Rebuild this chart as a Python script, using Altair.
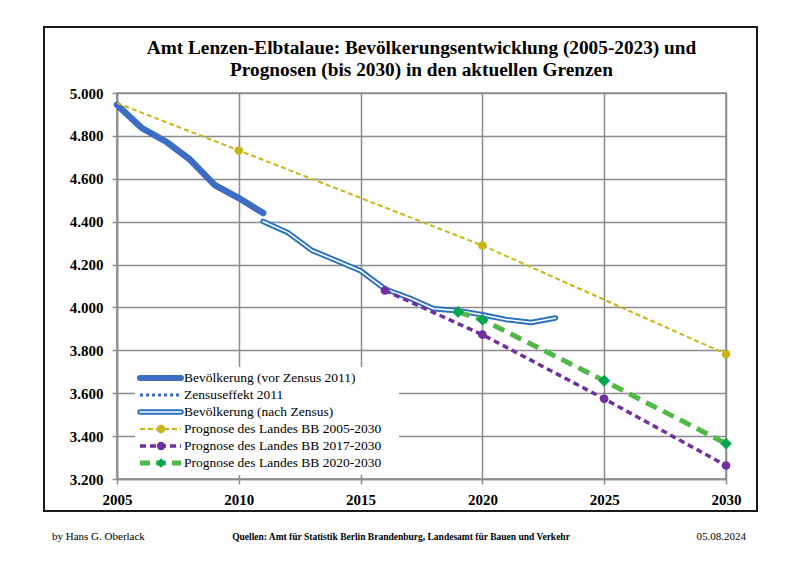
import altair as alt
import pandas as pd

# ---------------- data ----------------
years_before = [2005, 2006, 2007, 2008, 2009, 2010, 2011]
pop_before = [4945, 4838, 4774, 4689, 4572, 4510, 4440]

years_after = [2011, 2012, 2013, 2014, 2015, 2016, 2017, 2018, 2019, 2020, 2021, 2022, 2023]
pop_after = [4401, 4350, 4266, 4219, 4171, 4086, 4044, 3994, 3985, 3966, 3943, 3930, 3951]

years_p2005 = [2005, 2010, 2020, 2030]
pop_p2005 = [4953, 4732, 4289, 3783]
marker_years_p2005 = [2010, 2020, 2030]

years_p2017 = [2016, 2020, 2025, 2030]
pop_p2017 = [4079, 3873, 3574, 3263]

years_p2020 = [2019, 2020, 2025, 2030]
pop_p2020 = [3979, 3943, 3658, 3365]

legend_labels = [
    "Bevölkerung (vor Zensus 2011)",
    "Zensuseffekt 2011",
    "Bevölkerung (nach Zensus)",
    "Prognose des Landes BB 2005-2030",
    "Prognose des Landes BB 2017-2030",
    "Prognose des Landes BB 2020-2030",
]

x_ticks = [2005, 2010, 2015, 2020, 2025, 2030]
y_ticks = [3200, 3400, 3600, 3800, 4000, 4200, 4400, 4600, 4800, 5000]

title_lines = [
    "Amt Lenzen-Elbtalaue:  Bevölkerungsentwicklung (2005-2023) und",
    "Prognosen (bis 2030) in den aktuellen Grenzen",
]
footer_left = "by Hans G. Oberlack"
footer_mid = "Quellen: Amt für Statistik Berlin Brandenburg, Landesamt für Bauen und Verkehr"
footer_right = "05.08.2024"

# ---------------- styles ----------------
C_BEFORE = "#3d6cc5"
C_AFTER = "#2a72bf"
C_Y = "#c9b612"
C_P = "#7030a0"
C_G = "#52b848"
C_GM = "#00a651"
FONT = "Liberation Serif"
GRID = "#8c8c8c"

df_before = pd.DataFrame({"year": years_before, "pop": pop_before})
df_after = pd.DataFrame({"year": years_after, "pop": pop_after})
df_y = pd.DataFrame({"year": years_p2005, "pop": pop_p2005})
df_ym = df_y[df_y["year"].isin(marker_years_p2005)]
df_p = pd.DataFrame({"year": years_p2017, "pop": pop_p2017})
df_g = pd.DataFrame({"year": years_p2020, "pop": pop_p2020})

X = alt.X("year:Q", scale=alt.Scale(domain=[2005, 2030], nice=False, zero=False),
          axis=alt.Axis(values=x_ticks, format="d", title=None, labelFlush=False,
                        labelPadding=8))
Y = alt.Y("pop:Q", scale=alt.Scale(domain=[3200, 5000], nice=False, zero=False),
          axis=alt.Axis(values=y_ticks, title=None, labelPadding=9,
                        labelExpr="replace(format(datum.value, ','), ',', '.')"))


def base(df):
    return alt.Chart(df).encode(x=X, y=Y)


main_layers = [
    base(df_before).mark_line(color=C_BEFORE, strokeWidth=6.5, strokeCap="round", strokeJoin="round"),
    base(df_after).mark_line(color=C_AFTER, strokeWidth=5.5, strokeCap="round", strokeJoin="round"),
    base(df_after).mark_line(color="white", strokeWidth=1.6, strokeCap="round", strokeJoin="round"),
    base(df_y).mark_line(color=C_Y, strokeWidth=2, strokeDash=[5, 3]),
    base(df_ym).mark_point(color=C_Y, filled=True, opacity=1, size=75, shape="circle"),
    base(df_p).mark_line(color=C_P, strokeWidth=3.5, strokeDash=[6, 4]),
    base(df_p).mark_point(color=C_P, filled=True, opacity=1, size=75, shape="circle"),
    base(df_g).mark_line(color=C_G, strokeWidth=5, strokeDash=[12, 7]),
    base(df_g).mark_point(color=C_GM, filled=True, opacity=1, size=140, shape="diamond"),
]
main = alt.layer(*main_layers)

# ---------------- legend, frame, footer ----------------
legend_df = pd.DataFrame({"label": legend_labels})
LY = alt.Y("label:N", scale=alt.Scale(type="point", domain=legend_labels, range=[285, 370], padding=0),
           axis=None)
one = pd.DataFrame({"k": [0]})


def lrow(i):
    return alt.Chart(legend_df.iloc[[i]]).encode(y=LY)


lx1, lx2, lxm, ltx = 23, 64, 44, 67

legend_layers = [
    alt.Chart(one).mark_rect(fill="white").encode(
        x=alt.value(18), x2=alt.value(282), y=alt.value(274), y2=alt.value(382)),
    lrow(0).mark_rule(color=C_BEFORE, strokeWidth=6, strokeCap="round").encode(x=alt.value(lx1), x2=alt.value(lx2)),
    lrow(1).mark_rule(color=C_BEFORE, strokeWidth=3, strokeDash=[3, 3]).encode(x=alt.value(lx1), x2=alt.value(lx2)),
    lrow(2).mark_rule(color=C_AFTER, strokeWidth=5.5, strokeCap="round").encode(x=alt.value(lx1), x2=alt.value(lx2)),
    lrow(2).mark_rule(color="white", strokeWidth=1.6, strokeCap="round").encode(x=alt.value(lx1), x2=alt.value(lx2)),
    lrow(3).mark_rule(color=C_Y, strokeWidth=2, strokeDash=[5, 3]).encode(x=alt.value(lx1), x2=alt.value(lx2)),
    lrow(3).mark_point(color=C_Y, filled=True, opacity=1, size=70).encode(x=alt.value(lxm)),
    lrow(4).mark_rule(color=C_P, strokeWidth=3.5, strokeDash=[6, 4]).encode(x=alt.value(lx1), x2=alt.value(lx2)),
    lrow(4).mark_point(color=C_P, filled=True, opacity=1, size=70).encode(x=alt.value(lxm)),
    lrow(5).mark_rule(color=C_G, strokeWidth=5, strokeDash=[10, 6]).encode(x=alt.value(lx1), x2=alt.value(lx2)),
    lrow(5).mark_point(color=C_GM, filled=True, opacity=1, size=90, shape="diamond").encode(x=alt.value(lxm)),
    alt.Chart(legend_df).mark_text(align="left", baseline="middle", font=FONT, fontSize=13.5, color="black").encode(
        y=LY, x=alt.value(ltx), text="label:N"),
    # outer frame
    alt.Chart(one).mark_rect(filled=False, stroke="#1a1a1a", strokeWidth=2).encode(
        x=alt.value(-73), x2=alt.value(640), y=alt.value(-66), y2=alt.value(418)),
    # footer
    alt.Chart(one).mark_text(align="left", baseline="middle", font=FONT, fontSize=11, color="black").encode(
        x=alt.value(-65), y=alt.value(444), text=alt.value(footer_left)),
    alt.Chart(one).mark_text(align="center", baseline="middle", font=FONT, fontSize=9.5, fontWeight="bold",
                             color="black").encode(
        x=alt.value(284), y=alt.value(444), text=alt.value(footer_mid)),
    alt.Chart(one).mark_text(align="right", baseline="middle", font=FONT, fontSize=11, color="black").encode(
        x=alt.value(629), y=alt.value(444), text=alt.value(footer_right)),
]
legend = alt.layer(*legend_layers)

chart = alt.layer(main, legend).resolve_scale(y="independent").properties(
    width=609, height=386,
    title=alt.TitleParams(text=title_lines),
    autosize=alt.AutoSizeParams(type="none"),
    padding={"left": 109, "top": 85, "right": 50, "bottom": 80},
    background="white",
).configure_axis(
    gridColor=GRID, gridWidth=1.5, domainColor=GRID, domainWidth=1.5,
    tickColor=GRID, tickWidth=1.5, tickSize=5,
    labelFont=FONT, labelFontSize=15, labelFontWeight="bold", labelColor="black",
).configure_view(stroke=GRID, strokeWidth=1.5).configure_title(
    font=FONT, fontSize=19.3, fontWeight="bold", color="black", anchor="middle", lineHeight=22, offset=-54,
)

chart.save("out.html", embed_options={"renderer": "svg", "actions": False})
